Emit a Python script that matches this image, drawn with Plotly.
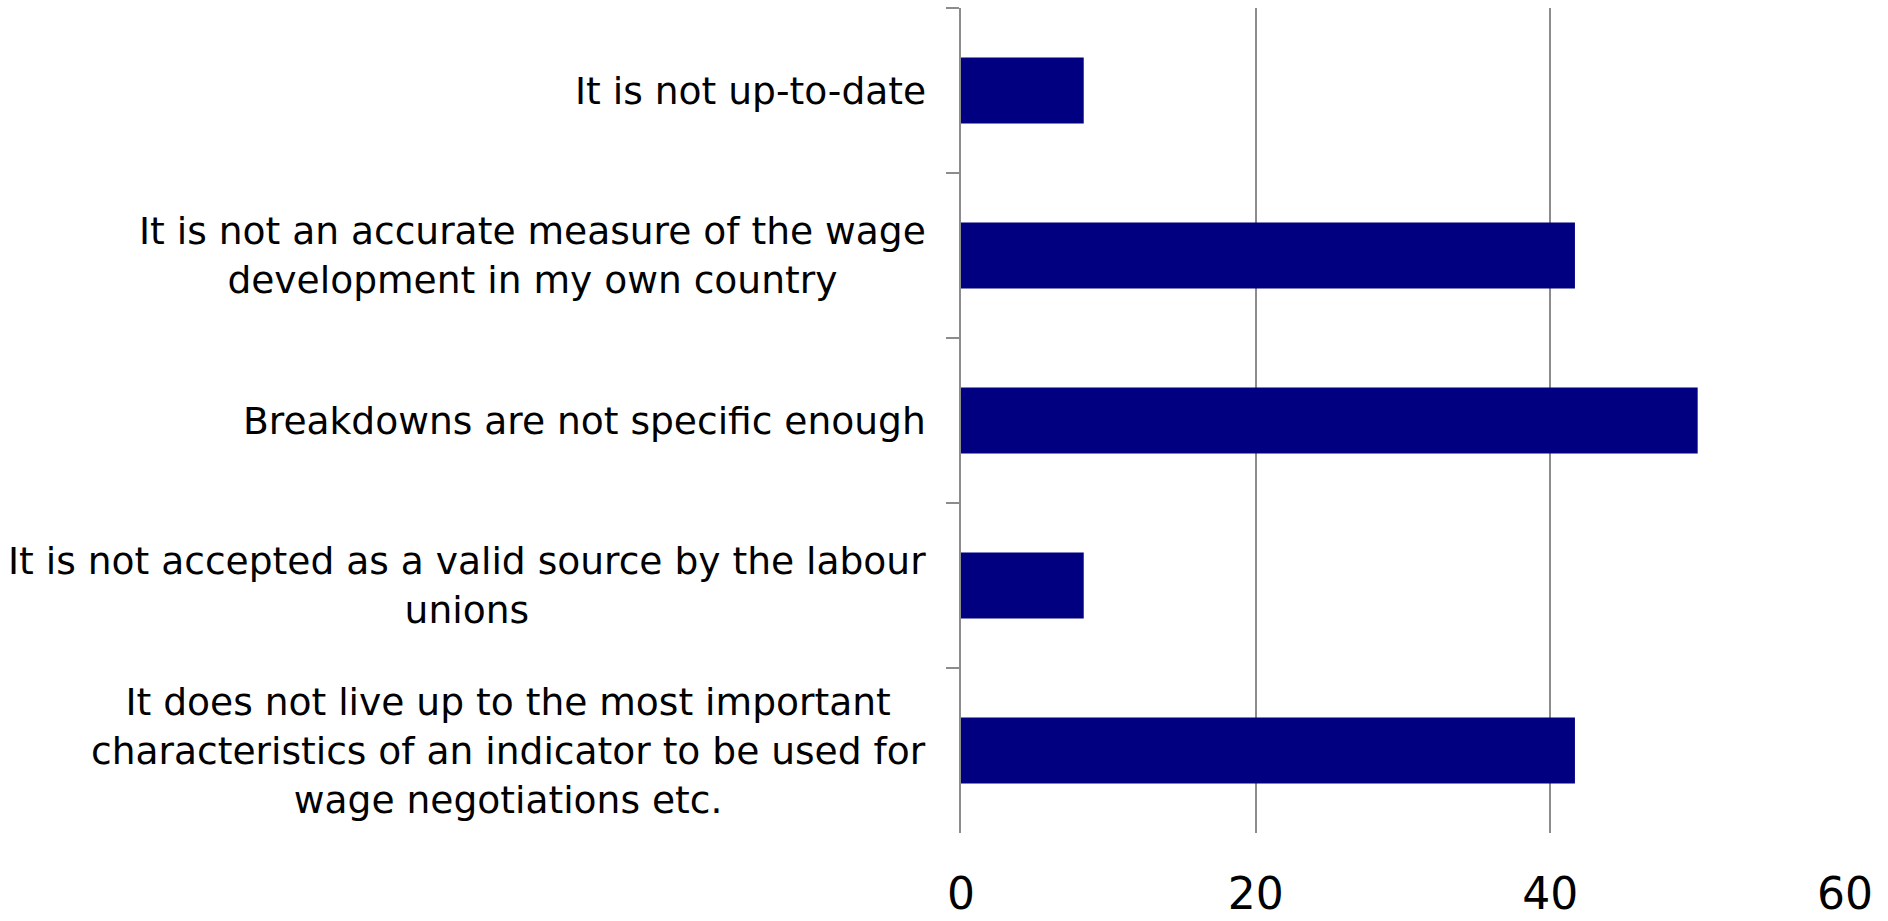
import plotly.graph_objects as go

# Survey responses: reasons the indicator is not used (share of respondents, %)
categories = [
    "It is not up-to-date",
    "It is not an accurate measure of the wage<br>development in my own country",
    "Breakdowns are not specific enough",
    "It is not accepted as a valid source by the labour<br>unions",
    "It does not live up to the most important<br>characteristics of an indicator to be used for<br>wage negotiations etc.",
]
shares = [8.33, 41.67, 50.0, 8.33, 41.67]
x_ticks = [0, 20, 40, 60]

FONT = "DejaVu Sans"
GRID = "#8c8c8c"

fig = go.Figure(
    go.Bar(
        x=shares,
        y=categories,
        orientation="h",
        marker=dict(color="#000080", line=dict(width=0)),
        hoverinfo="x+y",
    )
)

# Category labels as centred multi-line annotations left of the axis
for cat in categories:
    fig.add_annotation(
        x=0, xref="x", y=cat, yref="y",
        text=cat, showarrow=False,
        xanchor="right", yanchor="middle", align="center",
        xshift=-33,
        font=dict(family=FONT, size=37.6, color="#000000"),
    )

fig.update_layout(
    width=1888, height=921,
    margin=dict(l=961, r=43, t=8, b=88, autoexpand=False),
    paper_bgcolor="white", plot_bgcolor="white",
    bargap=0.6,
    showlegend=False,
    font=dict(family=FONT, color="#000000"),
    xaxis=dict(
        range=[0, 60],
        tickvals=x_ticks,
        ticktext=[str(v) for v in x_ticks],
        showgrid=True, gridcolor=GRID, gridwidth=1.5,
        zeroline=False, showline=False,
        ticks="", ticklabelstandoff=31,
        tickfont=dict(family=FONT, size=44, color="#000000"),
        automargin=False,
        fixedrange=True,
    ),
    yaxis=dict(
        type="category",
        categoryorder="array", categoryarray=categories,
        autorange="reversed",
        showticklabels=False,
        showline=True, linecolor=GRID, linewidth=2,
        ticks="outside", tickson="boundaries", ticklen=13,
        tickcolor=GRID, tickwidth=1.5,
        showgrid=False, zeroline=False,
        automargin=False,
        fixedrange=True,
    ),
)

fig.write_html("out.html")
